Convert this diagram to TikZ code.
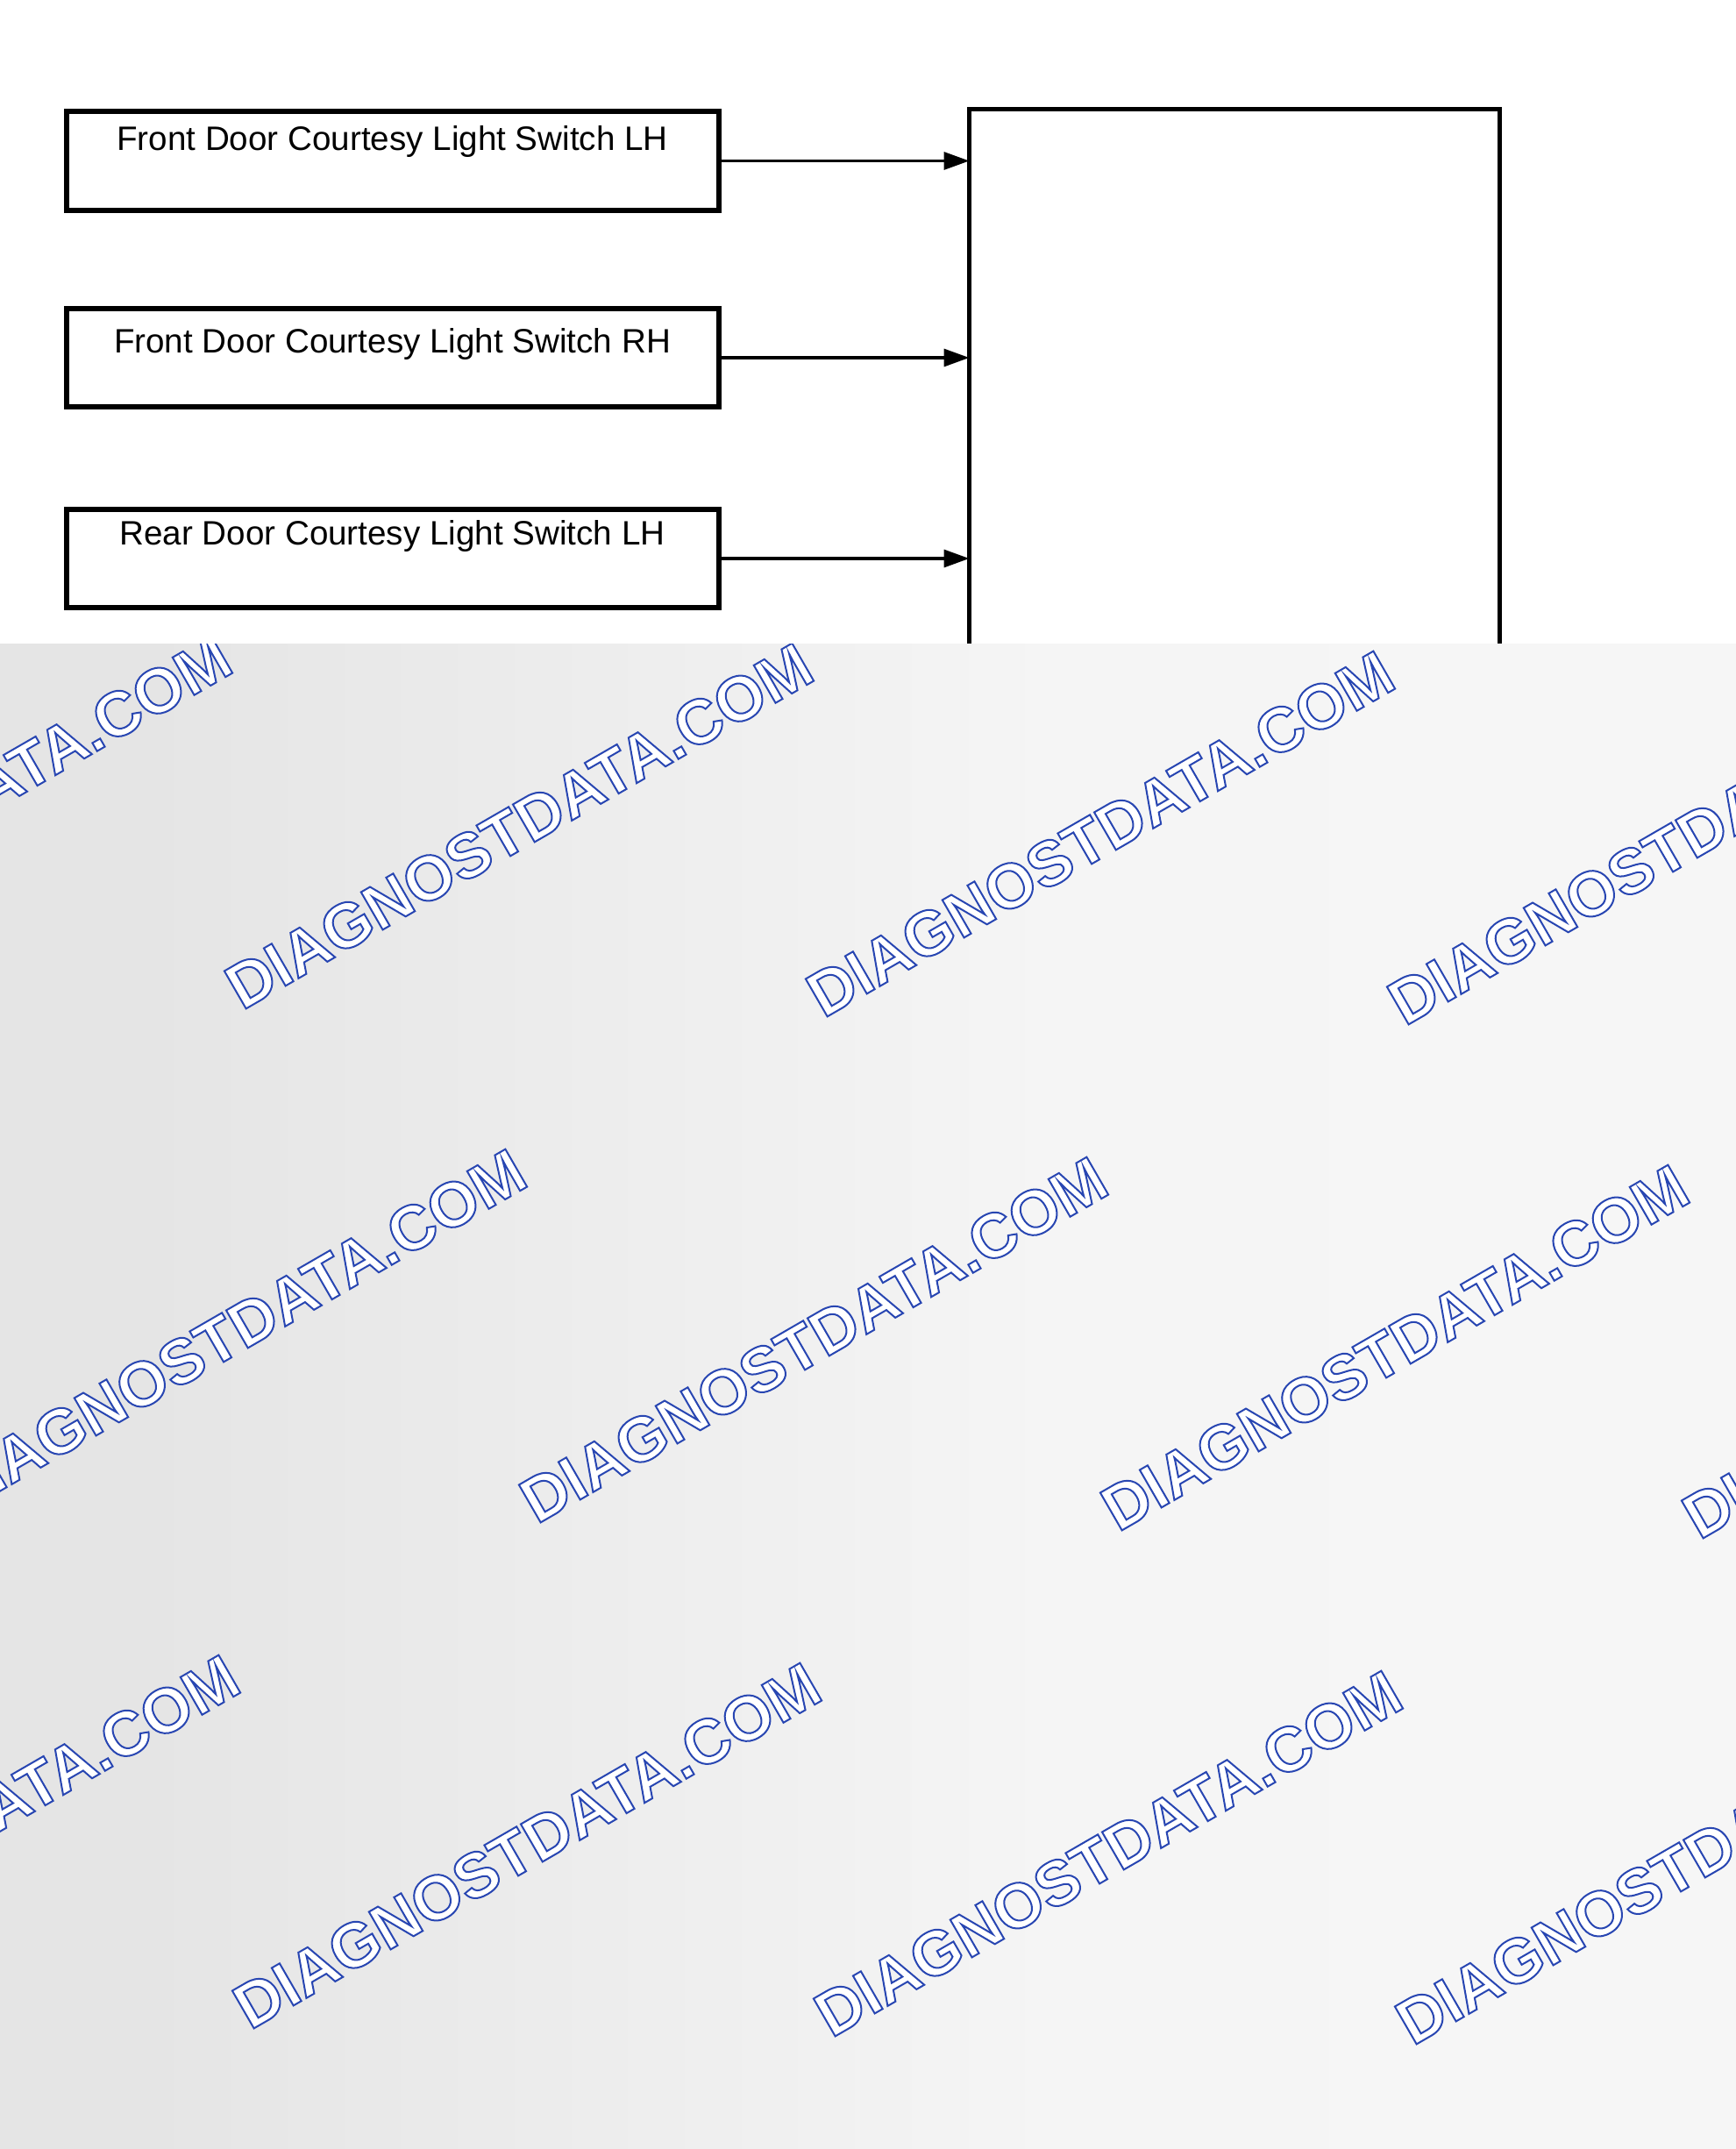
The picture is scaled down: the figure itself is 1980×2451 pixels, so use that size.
\documentclass[tikz,border=0pt]{standalone}
\usepackage{fontspec}
\setmainfont{Liberation Sans}
\usetikzlibrary{arrows.meta}

\definecolor{wmblue}{RGB}{40,70,178}
\pgfdeclarehorizontalshading{haze}{100bp}{color(0bp)=(black!12); color(30bp)=(black!10); color(55bp)=(black!4); color(85bp)=(black!3); color(94bp)=(black!9); color(100bp)=(black!15)}
% hollow letters: white fill, blue stroke
\newcommand{\hollow}[1]{\special{pdf:literal direct 2 Tr 2 w 0.157 0.275 0.698 RG 1 1 1 rg}#1\special{pdf:literal direct 0 Tr}}

\begin{document}
\begin{tikzpicture}[x=1pt, y=-1pt,
  switchbox/.style={draw, shape=rectangle, line width=6pt, outer sep=0pt, inner sep=0pt,
    minimum width=744pt, text height=44pt, text depth=68pt, font=\fontsize{38.6}{46}\selectfont},
  ecubox/.style={draw, shape=rectangle, line width=5.5pt, outer sep=0pt, inner sep=0pt,
    minimum width=605pt, minimum height=1000pt, anchor=north},
  feed/.style={line width=3.3pt, -{Triangle[length=29pt, width=20pt]}},
  stamp/.style={rotate=30, inner sep=0pt, text=white, font=\fontsize{72}{80}\selectfont\bfseries}]
\useasboundingbox (0,0) rectangle (1980,2451);

\node[switchbox] (sw1) at (447.5,183.5) {Front Door Courtesy Light Switch LH};
\node[switchbox, text height=50pt, text depth=62pt] (sw2) at (447.5,408) {Front Door Courtesy Light Switch RH};
\node[switchbox, text height=40pt, text depth=72pt] (sw3) at (447.5,637) {Rear Door Courtesy Light Switch LH};
\node[ecubox] (ecu) at (1408,124.5) {};

\foreach \s in {sw1,sw2,sw3}
  \draw[feed] (\s.east) -- (\s.east -| ecu.west);

% overlay
\shade[shading=haze] (0,734) rectangle (1980,2451);
\begin{scope}
  \clip (0,734) rectangle (1980,2451);
  \foreach \cx/\cy [count=\i] in {-71/933, 592/942, 1255/951, 1918/960,
      265/1519, 928/1528, 1591/1537, 2254/1546,
      -62/2096, 601/2105, 1264/2114, 1927/2123}
    \node[stamp] (wm\i) at (\cx,\cy) {\hollow{DIAGNOSTDATA.COM}};
\end{scope}
\end{tikzpicture}
\end{document}
